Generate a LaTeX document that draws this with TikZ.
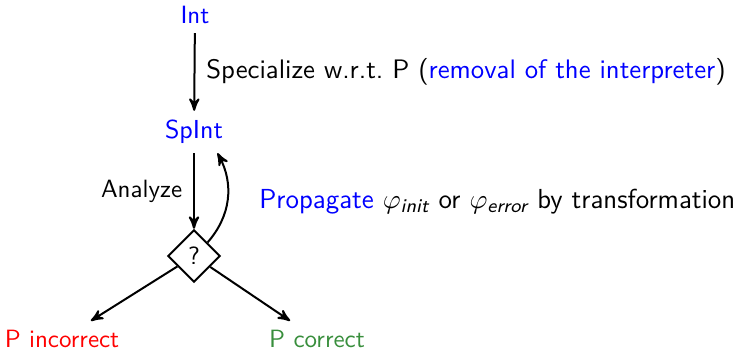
\documentclass[tikz,border=0pt]{standalone}
\usepackage{amsmath}
\usepackage{amssymb}
\usepackage{xcolor}
\usetikzlibrary{arrows,shapes,shapes.geometric,calc}
\renewcommand{\familydefault}{\sfdefault}
\definecolor{okgreen}{RGB}{56,142,60}

\begin{document}
\begin{tikzpicture}[x=0.4pt, y=-0.4pt, >=stealth', thick,
		prog/.style={text=blue},
		steplabel/.style={font=\fontsize{10.7}{13}\selectfont},
		test/.style={diamond, draw, inner sep=2.3pt, aspect=1}]

			% fixed frame of the picture
			\useasboundingbox (0,0) rectangle (736,350);

			% programs
			\node[prog] (int) at (195,15) {Int};
			\node[prog, font=\fontsize{10.4}{13}\selectfont] (spint) at (194,132) {SpInt};
			\node[test] (check) at (194,256) {?};

			% verdicts
			\node[text=red] (incorrect) at (62,339) {P incorrect};
			\node[text=okgreen] (correct) at (317,339) {P correct};

			% steps
			\draw[->] (int) -- (spint)
				node[steplabel, midway, right, xshift=1pt] {Specialize w.r.t.\ P ({\color{blue}removal of the interpreter})};
			\draw[->] (spint) -- (check)
				node[midway, left, xshift=-1pt] {Analyze};
			\draw[->] (check.north east) to[bend right=35] (spint.-42);
			\node[anchor=west, font=\fontsize{11}{14}\selectfont] (propagate) at (250,202)
				{{\color{blue}Propagate} $\varphi_{\textit{init}}$ or $\varphi_{\textit{error}}$ by transformation};

			\draw[->] (check) -- (incorrect);
			\draw[->] (check) -- (correct);

		\end{tikzpicture}
\end{document}
